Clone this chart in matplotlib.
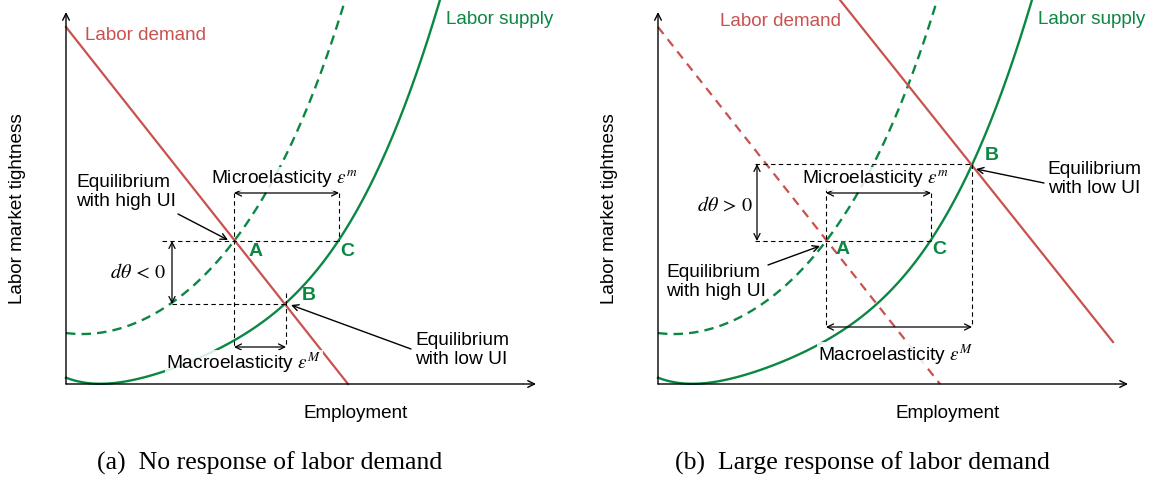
import numpy as np
import matplotlib.pyplot as plt

plt.rcParams['font.family'] = ['Liberation Sans', 'DejaVu Sans']
plt.rcParams['mathtext.fontset'] = 'stix'

GREEN = '#0b8744'
RED = '#c9524e'

# labor supply curves (employment, tightness)
supply_low_x = [0, 30, 60, 90, 125, 168, 220, 273, 314, 374]
supply_low_y = [6, 1, 3, 9, 22, 45, 81, 143, 220, 384]
supply_high_x = [0, 17, 34, 71, 106, 168, 229, 277]
supply_high_y = [51, 50, 51, 62, 81, 143, 248, 377]

# labor demand: initial line and shifted line of panel (b)
demand_x = [0, 282]
demand_y = [357, 0]
demand_new_x = [182, 455]
demand_new_y = [384, 42]

# equilibrium points
pt_A = (168, 143)
pt_C = (273, 143)
pt_B_a = (220, 80)
pt_B_b = (314, 220)

FS = 13.8
WHITE = dict(fc='white', ec='none', alpha=0.85, pad=1)


def smooth(xs, ys, deg=5):
    c = np.polyfit(xs, ys, deg)
    xx = np.linspace(xs[0], xs[-1] + 10, 400)
    return xx, np.polyval(c, xx)


def dash(ax, xs, ys):
    ax.plot(xs, ys, color='k', lw=0.8, dashes=(4, 3))


def arrow(ax, p0, p1, style='<->', lw=0.9, ms=11):
    ax.annotate('', xy=p1, xytext=p0,
                arrowprops=dict(arrowstyle=style, lw=lw, color='k',
                                shrinkA=0, shrinkB=0, mutation_scale=ms))


def base(ax, xlim):
    ax.set_xlim(*xlim)
    ax.set_ylim(-100, 384)
    ax.axis('off')
    arrow(ax, (0, 0), (0, 372), '->', 1.0, 12)
    arrow(ax, (0, 0), (470, 0), '->', 1.0, 12)
    xs, ys = smooth(supply_low_x, supply_low_y)
    ax.plot(xs, ys, color=GREEN, lw=1.7)
    xs, ys = smooth(supply_high_x, supply_high_y)
    ax.plot(xs, ys, color=GREEN, lw=1.7, dashes=(4, 2.6))
    ax.text(380, 364, 'Labor supply', color=GREEN, fontsize=13.6, va='center')
    ax.text(290, -29, 'Employment', fontsize=13.6, ha='center', va='center')
    ax.text(-48, 175, 'Labor market tightness', fontsize=13.6, rotation=90,
            ha='center', va='center')


fig = plt.figure(figsize=(11.56, 4.84), dpi=100)

# ---- panel (a)
ax = fig.add_axes([0, 0, 580 / 1156, 1])
base(ax, (-66, 514))
ax.plot(demand_x, demand_y, color=RED, lw=1.6)
ax.text(19, 348, 'Labor demand', color=RED, fontsize=13.6, va='center')

dash(ax, [96, pt_C[0]], [pt_A[1], pt_A[1]])
dash(ax, [106, pt_B_a[0]], [pt_B_a[1], pt_B_a[1]])
dash(ax, [pt_A[0], pt_A[0]], [191, 37])
dash(ax, [pt_C[0], pt_C[0]], [191, pt_C[1]])
dash(ax, [pt_B_a[0], pt_B_a[0]], [91, 37])
arrow(ax, (pt_A[0], 191), (pt_C[0], 191))
arrow(ax, (pt_A[0], 37), (pt_B_a[0], 37))
arrow(ax, (106, pt_A[1]), (106, pt_B_a[1]))

ax.text(218, 205, r'Microelasticity $\varepsilon^m$', fontsize=FS,
        ha='center', va='center', bbox=WHITE)
ax.text(178, 21, r'Macroelasticity $\varepsilon^M$', fontsize=FS,
        ha='center', va='center', bbox=WHITE)
ax.text(100, 112, r'$d\theta\,<\,0$', fontsize=14.5, ha='right', va='center')
ax.text(10, 192, 'Equilibrium\nwith high UI', fontsize=FS, va='center',
        linespacing=1.2)
arrow(ax, (112, 170), (162, 144), '->', 1.0, 11)
ax.text(349, 34, 'Equilibrium\nwith low UI', fontsize=FS, va='center',
        linespacing=1.2)
arrow(ax, (345, 35), (225, 79), '->', 1.0, 11)
for lab, xy in [('A', (190, 132)), ('C', (281, 132)), ('B', (243, 89))]:
    ax.text(*xy, lab, color=GREEN, fontsize=14, fontweight='bold',
            ha='center', va='center')
ax.text(204, -79, '(a)  No response of labor demand', fontsize=18.5,
        family='Liberation Serif', ha='center', va='center')

# ---- panel (b)
ax = fig.add_axes([580 / 1156, 0, 576 / 1156, 1])
base(ax, (-78, 498))
ax.plot(demand_x, demand_y, color=RED, lw=1.6, dashes=(4, 3))
ax.plot(demand_new_x, demand_new_y, color=RED, lw=1.6)
ax.text(62, 362, 'Labor demand', color=RED, fontsize=13.6, va='center')

dash(ax, [97, pt_B_b[0]], [pt_B_b[1], pt_B_b[1]])
dash(ax, [97, pt_C[0]], [pt_A[1], pt_A[1]])
dash(ax, [pt_A[0], pt_A[0]], [196, 57])
dash(ax, [pt_C[0], pt_C[0]], [191, pt_C[1]])
dash(ax, [pt_B_b[0], pt_B_b[0]], [pt_B_b[1], 57])
arrow(ax, (pt_A[0], 191), (pt_C[0], 191))
arrow(ax, (pt_A[0], 57), (pt_B_b[0], 57))
arrow(ax, (99, pt_A[1]), (99, pt_B_b[1]))

ax.text(217, 205, r'Microelasticity $\varepsilon^m$', fontsize=FS,
        ha='center', va='center', bbox=WHITE)
ax.text(238, 29, r'Macroelasticity $\varepsilon^M$', fontsize=FS,
        ha='center', va='center', bbox=WHITE)
ax.text(95, 179, r'$d\theta\,>\,0$', fontsize=14.5, ha='right', va='center')
ax.text(8, 102, 'Equilibrium\nwith high UI', fontsize=FS, va='center',
        linespacing=1.2)
arrow(ax, (110, 119), (162, 138), '->', 1.0, 11)
ax.text(436, 205, 'Equilibrium\nwith low UI', fontsize=FS, va='center',
        ha='center', multialignment='center', linespacing=1.2)
arrow(ax, (386, 201), (318, 215), '->', 1.0, 11)
for lab, xy in [('A', (185, 134)), ('C', (281, 134)), ('B', (334, 228))]:
    ax.text(*xy, lab, color=GREEN, fontsize=14, fontweight='bold',
            ha='center', va='center')
ax.text(204, -79, '(b)  Large response of labor demand', fontsize=18.5,
        family='Liberation Serif', ha='center', va='center')

fig.savefig('out.png', dpi=100)
